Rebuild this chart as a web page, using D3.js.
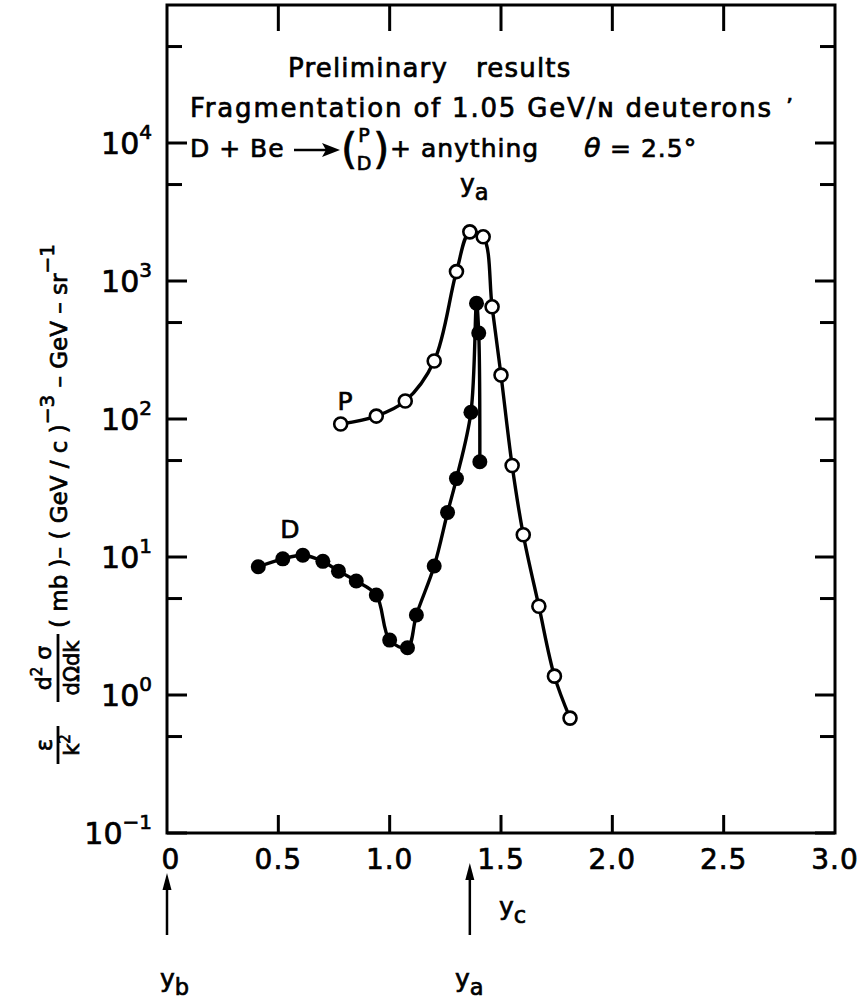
<!DOCTYPE html>
<html><head><meta charset="utf-8">
<script src="https://cdn.jsdelivr.net/npm/d3@7"></script>
<style>
html,body{margin:0;padding:0;background:#fff;}
svg text{font-family:"DejaVu Sans",sans-serif;fill:#000;stroke:#000;stroke-width:0.7px;white-space:pre;}
</style></head>
<body>
<svg id="chart" width="860" height="1000"></svg>
<script>
// ---- data ----
const pX = [0.78,0.94,1.07,1.20,1.30,1.36,1.42,1.46,1.50,1.55,1.60,1.67,1.74,1.81];
const pY = [92,105,135,263,1170,2270,2090,650,208,46,14.5,4.4,1.37,0.68];
const dX = [0.41,0.52,0.61,0.70,0.77,0.85,0.94,1.00,1.08,1.12,1.20,1.26,1.30,1.365,1.39,1.40,1.405];
const dY = [8.5,9.7,10.3,9.3,7.9,6.7,5.3,2.5,2.2,3.8,8.6,21,37,112,690,420,49];
const xTickVals = [0,0.5,1.0,1.5,2.0,2.5,3.0];
const xTickLabels = ["0","0.5","1.0","1.5","2.0","2.5","3.0"];
const yExps = [-1,0,1,2,3,4];
const yMinor = [0.5,5,50,500,5000,50000];
const yb = 0, ya = 1.36;

const svg = d3.select("#chart");
const L=167, R=835, T=5, B=833;
const x = d3.scaleLinear().domain([0,3]).range([L,R]);
const y = d3.scaleLog().domain([0.1,1e5]).range([B,T]);

// frame
svg.append("rect").attr("x",L).attr("y",T).attr("width",R-L).attr("height",B-T)
  .attr("fill","none").attr("stroke","#000").attr("stroke-width",3);

// y ticks (left and right)
const majors = yExps.map(e=>Math.pow(10,e));
majors.forEach(v=>{
  svg.append("line").attr("x1",L).attr("x2",L+20).attr("y1",y(v)).attr("y2",y(v)).attr("stroke","#000").attr("stroke-width",3);
  svg.append("line").attr("x1",R).attr("x2",R-20).attr("y1",y(v)).attr("y2",y(v)).attr("stroke","#000").attr("stroke-width",3);
});
yMinor.forEach(v=>{
  svg.append("line").attr("x1",L).attr("x2",L+15).attr("y1",y(v)).attr("y2",y(v)).attr("stroke","#000").attr("stroke-width",3);
  svg.append("line").attr("x1",R).attr("x2",R-15).attr("y1",y(v)).attr("y2",y(v)).attr("stroke","#000").attr("stroke-width",3);
});
// y tick labels
yExps.forEach(e=>{
  const t = svg.append("text").attr("x",152).attr("y",y(Math.pow(10,e))+11)
    .attr("text-anchor","end").attr("font-size",30);
  t.append("tspan").text("10");
  t.append("tspan").attr("dy",-15).attr("font-size",20).text(e<0?"\u2212"+Math.abs(e):String(e));
});

// x ticks top & bottom
xTickVals.slice(1,-1).forEach(v=>{
  svg.append("line").attr("x1",x(v)).attr("x2",x(v)).attr("y1",T).attr("y2",T+26).attr("stroke","#000").attr("stroke-width",3);
  svg.append("line").attr("x1",x(v)).attr("x2",x(v)).attr("y1",B).attr("y2",B-18).attr("stroke","#000").attr("stroke-width",3);
});
xTickVals.forEach((v,i)=>{
  svg.append("text").attr("x",x(v)+(i===0?4:0)).attr("y",869).attr("text-anchor","middle")
    .attr("font-size",28).attr("letter-spacing",1).text(xTickLabels[i]);
});

// curves
const line = d3.line().x(d=>x(d[0])).y(d=>y(d[1])).curve(d3.curveCatmullRom.alpha(0.5));
const pData = pX.map((v,i)=>[v,pY[i]]);
const dData = dX.map((v,i)=>[v,dY[i]]);
svg.append("path").attr("d",line(pData)).attr("fill","none").attr("stroke","#000").attr("stroke-width",3.4);
svg.append("path").attr("d",line(dData)).attr("fill","none").attr("stroke","#000").attr("stroke-width",3.4);
svg.selectAll(".pd").data(dData).enter().append("circle")
  .attr("cx",d=>x(d[0])).attr("cy",d=>y(d[1])).attr("r",7.5).attr("fill","#000");
svg.selectAll(".pp").data(pData).enter().append("circle")
  .attr("cx",d=>x(d[0])).attr("cy",d=>y(d[1])).attr("r",6.5).attr("fill","#fff")
  .attr("stroke","#000").attr("stroke-width",2.6);

// series labels
svg.append("text").attr("x",345).attr("y",410).attr("text-anchor","middle").attr("font-size",25).text("P");
svg.append("text").attr("x",290).attr("y",538).attr("text-anchor","middle").attr("font-size",25).text("D");

// titles
svg.append("text").attr("x",288).attr("y",77).attr("font-size",26).attr("letter-spacing",1.2).text("Preliminary");
svg.append("text").attr("x",476).attr("y",77).attr("font-size",26).attr("letter-spacing",1.2).text("results");
svg.append("text").attr("x",190).attr("y",117).attr("font-size",26).attr("letter-spacing",1.8).text("Fragmentation of 1.05 GeV/\u0274 deuterons");
svg.append("text").attr("x",786).attr("y",114).attr("font-size",22).text("\u2019");
// reaction line
svg.append("text").attr("x",190).attr("y",157).attr("font-size",25).attr("letter-spacing",1).text("D + Be");
svg.append("path").attr("d","M294,150 L326,150").attr("stroke","#000").attr("stroke-width",2.5);
svg.append("path").attr("d","M340,150 L322,143 L326,150 L322,157 Z").attr("fill","#000");
svg.append("text").attr("x",341).attr("y",164).attr("font-size",42).text("(");
svg.append("text").attr("x",364).attr("y",142).attr("font-size",19).attr("text-anchor","middle").text("P");
svg.append("text").attr("x",364).attr("y",170).attr("font-size",19).attr("text-anchor","middle").text("D");
svg.append("text").attr("x",373).attr("y",164).attr("font-size",42).text(")");
svg.append("text").attr("x",390).attr("y",157).attr("font-size",25).attr("letter-spacing",1).text("+ anything");
svg.append("text").attr("x",584).attr("y",157).attr("font-size",27).attr("font-style","italic").text("\u03B8");
svg.append("text").attr("x",610).attr("y",157).attr("font-size",25).attr("letter-spacing",1).text("= 2.5\u00B0");

// y labels with subscripts
function ylab(xp, yp, sub, fs){
  const t = svg.append("text").attr("x",xp).attr("y",yp).attr("font-size",fs);
  t.append("tspan").text("y");
  t.append("tspan").attr("dy",8).attr("font-size",fs*0.9).text(sub);
}
ylab(460,192,"a",25);
ylab(499,915,"c",25);
ylab(160,987,"b",25);
ylab(455,987,"a",25);

// arrows
function arrow(xv, y1, y2){
  const xp = x(xv);
  svg.append("line").attr("x1",xp).attr("x2",xp).attr("y1",y1).attr("y2",y2+10).attr("stroke","#000").attr("stroke-width",2.5);
  svg.append("path").attr("d",`M${xp},${y2} L${xp-4.5},${y2+17} L${xp+4.5},${y2+17} Z`).attr("fill","#000");
}
arrow(yb, 935, 873);
arrow(ya, 935, 863);

// y-axis label (rotated)
const g = svg.append("g").attr("transform","translate(58,0) rotate(-90)");
function rt(u, v, txt, fs, anchor){
  return g.append("text").attr("x",-u).attr("y",v).attr("font-size",fs).attr("text-anchor",anchor||"middle").text(txt);
}
// eps / k^2
rt(745,-6,"\u03B5",23);
g.append("line").attr("x1",-764).attr("x2",-726).attr("y1",0).attr("y2",0).attr("stroke","#000").attr("stroke-width",2.8);
const k2 = g.append("text").attr("x",-745).attr("y",21).attr("font-size",21).attr("text-anchor","middle");
k2.append("tspan").text("k");
k2.append("tspan").attr("dy",-9).attr("font-size",15).text("2");
// d2sigma / dOmega dk
const num = g.append("text").attr("x",-668).attr("y",-7).attr("font-size",22).attr("text-anchor","middle");
num.append("tspan").text("d");
num.append("tspan").attr("dy",-9).attr("font-size",15).text("2");
num.append("tspan").attr("dy",9).text(" \u03C3");
g.append("line").attr("x1",-702).attr("x2",-634).attr("y1",0).attr("y2",0).attr("stroke","#000").attr("stroke-width",2.8);
rt(668,21,"d\u03A9dk",21);
// rest
const rest = g.append("text").attr("x",-628).attr("y",9).attr("font-size",23).attr("text-anchor","start");
rest.append("tspan").text("( mb )\u2013 ( GeV / c )");
rest.append("tspan").attr("dy",-13).attr("font-size",20).text("\u22123");
rest.append("tspan").attr("dy",13).text(" \u2013 GeV \u2013 sr");
rest.append("tspan").attr("dy",-13).attr("font-size",20).text("\u22121");
</script>
</body></html>
